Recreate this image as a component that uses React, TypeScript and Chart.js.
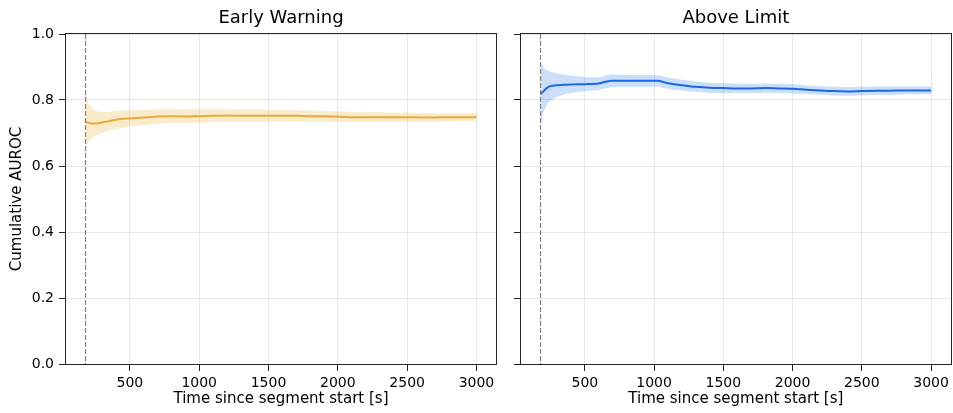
import React, { useEffect, useRef } from "react";
import { Chart, registerables } from "chart.js";
Chart.register(...registerables);

const FONT = "'DejaVu Sans', 'Liberation Sans', sans-serif";

const xTickValues = [500, 1000, 1500, 2000, 2500, 3000];
const yTickStep = 0.2;
const markerTime = 180;

const ewTime = [180, 200, 225, 250, 300, 350, 400, 450, 500, 600, 700, 800, 900, 1000, 1100, 1200, 1300, 1400, 1500, 1600, 1700, 1800, 1900, 2000, 2100, 2200, 2300, 2400, 2500, 2600, 2700, 2800, 2900, 3000];
const ewMean = [0.734, 0.731, 0.729, 0.729, 0.732, 0.736, 0.740, 0.743, 0.744, 0.747, 0.750, 0.751, 0.750, 0.751, 0.752, 0.753, 0.752, 0.752, 0.752, 0.752, 0.752, 0.751, 0.751, 0.749, 0.748, 0.748, 0.748, 0.748, 0.748, 0.747, 0.747, 0.748, 0.748, 0.748];
const ewLower = [0.652, 0.672, 0.685, 0.692, 0.700, 0.707, 0.712, 0.716, 0.719, 0.724, 0.728, 0.730, 0.730, 0.731, 0.733, 0.734, 0.734, 0.734, 0.734, 0.735, 0.735, 0.735, 0.735, 0.733, 0.733, 0.733, 0.733, 0.734, 0.734, 0.734, 0.734, 0.735, 0.736, 0.736];
const ewUpper = [0.815, 0.792, 0.776, 0.768, 0.764, 0.765, 0.767, 0.768, 0.769, 0.770, 0.772, 0.772, 0.771, 0.772, 0.772, 0.772, 0.771, 0.771, 0.770, 0.769, 0.769, 0.768, 0.767, 0.765, 0.764, 0.764, 0.763, 0.762, 0.762, 0.761, 0.760, 0.760, 0.760, 0.760];

const alTime = [180, 200, 225, 250, 300, 350, 400, 450, 500, 600, 650, 700, 800, 900, 1000, 1030, 1100, 1200, 1300, 1400, 1500, 1600, 1700, 1800, 1900, 2000, 2100, 2200, 2300, 2400, 2500, 2600, 2700, 2800, 2900, 3000];
const alMean = [0.818, 0.826, 0.836, 0.842, 0.845, 0.846, 0.847, 0.848, 0.848, 0.850, 0.855, 0.858, 0.858, 0.858, 0.858, 0.858, 0.851, 0.845, 0.840, 0.837, 0.836, 0.835, 0.835, 0.836, 0.835, 0.834, 0.831, 0.829, 0.827, 0.826, 0.827, 0.828, 0.828, 0.829, 0.829, 0.829];
const alLower = [0.715, 0.760, 0.785, 0.797, 0.810, 0.817, 0.821, 0.825, 0.827, 0.830, 0.836, 0.839, 0.840, 0.840, 0.840, 0.841, 0.834, 0.829, 0.825, 0.822, 0.821, 0.821, 0.821, 0.822, 0.821, 0.820, 0.818, 0.816, 0.814, 0.813, 0.814, 0.815, 0.815, 0.817, 0.817, 0.818];
const alUpper = [0.920, 0.900, 0.890, 0.886, 0.880, 0.877, 0.874, 0.872, 0.870, 0.869, 0.874, 0.877, 0.876, 0.876, 0.876, 0.875, 0.868, 0.861, 0.856, 0.852, 0.851, 0.850, 0.849, 0.850, 0.849, 0.848, 0.845, 0.842, 0.840, 0.839, 0.840, 0.841, 0.841, 0.841, 0.841, 0.841];

type PanelProps = {
  title: string;
  time: number[];
  mean: number[];
  lower: number[];
  upper: number[];
  lineColor: string;
  bandColor: string;
  showYLabels: boolean;
  width: number;
  left: number;
  yAxisWidth: number;
  padRight: number;
};

function Panel(p: PanelProps) {
  const ref = useRef<HTMLCanvasElement | null>(null);
  useEffect(() => {
    if (!ref.current) return;
    const pts = (arr: number[]) => p.time.map((t, i) => ({ x: t, y: arr[i] }));
    const overlay = {
      id: "overlay" + p.title.replace(/\s/g, ""),
      afterDatasetsDraw(chart: any) {
        const { ctx, chartArea } = chart;
        const xs = chart.scales.x;
        const px = xs.getPixelForValue(markerTime);
        ctx.save();
        ctx.strokeStyle = "#808080";
        ctx.lineWidth = 1.2;
        ctx.setLineDash([5, 2]);
        ctx.beginPath();
        ctx.moveTo(px, chartArea.top);
        ctx.lineTo(px, chartArea.bottom);
        ctx.stroke();
        ctx.setLineDash([]);
        ctx.strokeStyle = "#262626";
        ctx.lineWidth = 1;
        ctx.strokeRect(
          Math.round(chartArea.left) - 0.5,
          Math.round(chartArea.top) - 0.5,
          Math.round(chartArea.right - chartArea.left) + 1,
          Math.round(chartArea.bottom - chartArea.top) + 1
        );
        ctx.fillStyle = "#000";
        ctx.font = "18px " + FONT;
        ctx.textAlign = "center";
        ctx.textBaseline = "middle";
        ctx.fillText(p.title, (chartArea.left + chartArea.right) / 2, 18);
        ctx.restore();
      },
    };
    const chart = new Chart(ref.current, {
      type: "line",
      data: {
        datasets: [
          {
            label: "lower",
            data: pts(p.lower),
            borderWidth: 0,
            pointRadius: 0,
            borderColor: "rgba(0,0,0,0)",
            fill: false,
            tension: 0.3,
          },
          {
            label: "upper",
            data: pts(p.upper),
            borderWidth: 0,
            pointRadius: 0,
            borderColor: "rgba(0,0,0,0)",
            backgroundColor: p.bandColor,
            fill: "-1",
            tension: 0.3,
          },
          {
            label: "mean",
            data: pts(p.mean),
            borderWidth: 2,
            pointRadius: 0,
            borderColor: p.lineColor,
            fill: false,
            tension: 0.3,
          },
        ],
      },
      options: {
        responsive: false,
        animation: false,
        events: [],
        layout: { padding: { top: 34, left: 0, right: p.padRight, bottom: 0 } },
        plugins: {
          legend: { display: false },
          tooltip: { enabled: false },
          title: { display: false },
        },
        scales: {
          x: {
            type: "linear",
            min: 39,
            max: 3141,
            afterBuildTicks: (s: any) => {
              s.ticks = xTickValues.map((v) => ({ value: v }));
            },
            afterFit: (s: any) => {
              s.height = 49;
            },
            grid: {
              color: "rgba(176,176,176,0.3)",
              tickColor: "#262626",
              tickLength: 7,
              lineWidth: 1,
            },
            border: { display: false },
            ticks: {
              color: "#000",
              font: { family: FONT, size: 14 },
              padding: 4,
              maxRotation: 0,
              autoSkip: false,
              callback: (v: any) => String(v),
            },
            title: {
              display: true,
              text: "Time since segment start [s]",
              color: "#000",
              font: { family: FONT, size: 15 },
              padding: { top: 0, bottom: 5 },
            },
          },
          y: {
            min: 0,
            max: 1,
            afterFit: (s: any) => {
              s.width = p.yAxisWidth;
            },
            grid: {
              color: "rgba(176,176,176,0.3)",
              tickColor: "#262626",
              tickLength: 7,
              lineWidth: 1,
            },
            border: { display: false },
            ticks: {
              stepSize: yTickStep,
              color: "#000",
              font: { family: FONT, size: 14 },
              padding: 5,
              callback: (v: any) => (p.showYLabels ? Number(v).toFixed(1) : ""),
            },
            title: {
              display: p.showYLabels,
              text: "Cumulative AUROC",
              color: "#000",
              font: { family: FONT, size: 15 },
              padding: { top: 8, bottom: 0 },
            },
          },
        },
      },
      plugins: [overlay],
    } as any);
    return () => chart.destroy();
  }, []);
  return (
    <canvas
      ref={ref}
      width={p.width}
      height={413}
      style={{ position: "absolute", left: p.left, top: 0, width: p.width, height: 413, display: "block" }}
    />
  );
}

export default function App() {
  return (
    <div style={{ position: "absolute", left: 0, top: 0, width: 953, height: 413, background: "#fff" }}>
      <Panel
        title="Early Warning"
        time={ewTime}
        mean={ewMean}
        lower={ewLower}
        upper={ewUpper}
        lineColor="#e8a22c"
        bandColor="rgba(240,190,90,0.3)"
        showYLabels={true}
        width={500}
        left={0}
        yAxisWidth={66}
        padRight={4}
      />
      <Panel
        title="Above Limit"
        time={alTime}
        mean={alMean}
        lower={alLower}
        upper={alUpper}
        lineColor="#0a5ce0"
        bandColor="rgba(70,140,240,0.28)"
        showYLabels={false}
        width={453}
        left={500}
        yAxisWidth={21}
        padRight={2}
      />
    </div>
  );
}
